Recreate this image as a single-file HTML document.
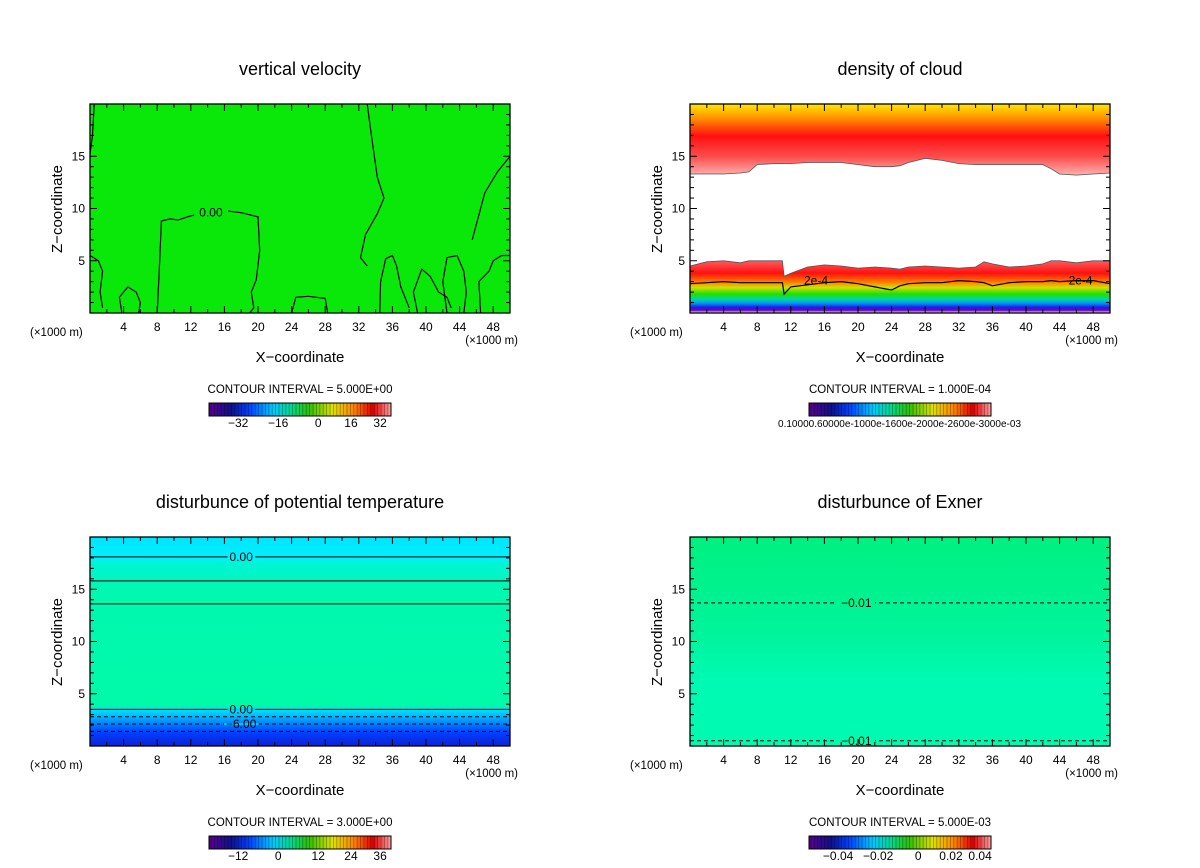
<!DOCTYPE html>
<html><head><meta charset="utf-8">
<style>
html,body{margin:0;padding:0;background:#fff;}
svg{display:block;font-family:"Liberation Sans","DejaVu Sans",sans-serif;}
</style></head>
<body>
<svg id="fig" width="1200" height="868" viewBox="0 0 1200 868" xmlns="http://www.w3.org/2000/svg">
<defs>
<linearGradient id="rainbow" x1="0" x2="1" y1="0" y2="0">
<stop offset="0" stop-color="#5a0090"/><stop offset="0.12" stop-color="#10108a"/><stop offset="0.22" stop-color="#0040ff"/>
<stop offset="0.35" stop-color="#00c8ff"/><stop offset="0.45" stop-color="#00d890"/><stop offset="0.55" stop-color="#30c000"/>
<stop offset="0.68" stop-color="#e0e000"/><stop offset="0.8" stop-color="#ff8000"/><stop offset="0.9" stop-color="#e00000"/><stop offset="1" stop-color="#ffa0a0"/>
</linearGradient>
<linearGradient id="gUpper" x1="0" x2="0" y1="0" y2="1">
<stop offset="0" stop-color="#ffe800"/><stop offset="0.2" stop-color="#ff9000"/><stop offset="0.45" stop-color="#ff1010"/><stop offset="0.75" stop-color="#ff5050"/><stop offset="1" stop-color="#ffb0b0"/>
</linearGradient>
<linearGradient id="gLower" gradientUnits="userSpaceOnUse" x1="0" x2="0" y1="260" y2="313">
<stop offset="0" stop-color="#ff6060"/><stop offset="0.25" stop-color="#ff1010"/><stop offset="0.42" stop-color="#ff8000"/><stop offset="0.52" stop-color="#d0e000"/>
<stop offset="0.64" stop-color="#20e000"/><stop offset="0.74" stop-color="#00d8a0"/><stop offset="0.82" stop-color="#0090ff"/><stop offset="0.89" stop-color="#2020e0"/><stop offset="0.95" stop-color="#7000c0"/><stop offset="1" stop-color="#ffffff"/>
</linearGradient>
<linearGradient id="gTheta" gradientUnits="userSpaceOnUse" x1="0" x2="0" y1="537" y2="747">
<stop offset="0" stop-color="#00e4ff"/><stop offset="0.1" stop-color="#00f0ff"/><stop offset="0.12" stop-color="#00f4d8"/><stop offset="0.25" stop-color="#00f8b0"/>
<stop offset="0.8" stop-color="#00faa8"/><stop offset="0.83" stop-color="#00d8ff"/><stop offset="0.88" stop-color="#0090ff"/><stop offset="0.93" stop-color="#0040ff"/><stop offset="1" stop-color="#1020d0"/>
</linearGradient>
<linearGradient id="gExner" gradientUnits="userSpaceOnUse" x1="0" x2="0" y1="537" y2="747">
<stop offset="0" stop-color="#00f080"/><stop offset="0.45" stop-color="#00f49a"/><stop offset="0.7" stop-color="#00fab4"/><stop offset="1" stop-color="#00fab0"/>
</linearGradient>
</defs>
</svg>
<script>
// ---------- data ----------
const xTicks = [4,8,12,16,20,24,28,32,36,40,44,48];
const zTicks = [5,10,15];
const titles = ["vertical velocity","density of cloud","disturbunce of potential temperature","disturbunce of Exner"];
const intervals = ["CONTOUR INTERVAL = 5.000E+00","CONTOUR INTERVAL = 1.000E-04","CONTOUR INTERVAL = 3.000E+00","CONTOUR INTERVAL = 5.000E-03"];
const cbLabels0 = ["−32","−16","0","16","32"];
const cbLabels2 = ["−12","0","12","24","36"];
const cbLabels3 = ["−0.04","−0.02","0","0.02","0.04"];
// vertical velocity zero contours (x km, z km)
const wLine1 = [[0.5,20],[0.3,17],[0,15.2]];
const wLine2 = [[8,0],[8.3,5],[8.5,8.8],[9.5,9.0],[10.5,8.9],[12,9.3],[14,9.6],[16,9.8],[18,9.6],[20,9.2],[20.2,6],[19.8,3.2],[19.2,2],[19.5,0.5],[19,0]];
const wLine3 = [[33,20],[33.5,17],[34.2,13],[35,11],[34.2,9.5],[32.8,7.5],[32.2,5.3],[33,4.5]];
const wLine4 = [[50,15],[48.5,13.5],[47,11.5],[46,8.5],[45.5,7]];
const wLine5 = [[0,5.5],[1,5],[1.5,4],[1.2,2],[1.5,0.5]];
const wLine6 = [[34.5,0],[34.6,3],[35.2,5.2],[36,5.5],[36.5,4.5],[37,2.5],[37.5,1.5],[38,0.5]];
const wLine7 = [[39,0],[38.5,2],[39.5,4.2],[40.5,3.5],[41.5,2],[42.5,1.5],[43,0.5]];
const wLine8 = [[42.5,0],[42,3],[42.5,5.3],[43.7,5.5],[44.5,4],[44.8,2],[44.5,0]];
const wLine9 = [[46.5,0],[46.3,3],[47.5,4],[48,5],[49,5.5],[50,5.5]];
const wLine10 = [[24,0],[24.5,1.5],[26,1.6],[28,1.4],[28.3,0]];
const wLine11 = [[3.8,0],[3.5,1.5],[4.5,2.5],[5.5,2],[6,1],[5.8,0]];
// cloud density boundaries
const cX = [0,2,4,6,7,8,10,11,11.2,12,14,16,18,20,22,24,25,26,28,30,32,34,35,36,38,40,42,43,44,46,48,50];
const cUpperBase = [13.3,13.3,13.3,13.4,13.5,14.2,14.3,14.3,14.3,14.3,14.4,14.4,14.4,14.2,14.0,14.0,14.1,14.4,14.8,14.6,14.3,14.2,14.2,14.2,14.2,14.2,14.2,13.8,13.3,13.2,13.3,13.4];
const cLowerTop = [4.5,4.9,5.0,4.8,5.0,5.0,5.0,5.0,3.5,3.8,4.4,4.6,4.5,4.3,4.4,4.3,4.2,4.4,4.5,4.4,4.3,4.4,4.9,4.7,4.4,4.5,4.7,5.0,5.0,4.8,5.0,5.0];
const c2e4 = [2.8,2.9,3.0,2.9,2.9,2.9,2.9,2.9,1.8,2.5,2.7,2.9,3.0,2.8,2.5,2.2,2.6,2.8,2.9,2.9,3.1,3.0,2.9,2.6,2.9,3.0,3.0,3.1,3.0,3.1,3.1,2.8];
// potential temperature contour levels (z km) & styles
const thLevels = [18.1,15.8,13.6,3.5,2.8,2.1,1.4];
const thDashed = [false,false,false,false,true,true,true];
const thLabels = ["0.00","","","0.00","","−6.00",""];
// exner contours
const exLevels = [13.7,0.5];
const exLabels = ["−0.01","−0.01"];

// ---------- drawing ----------
const NS="http://www.w3.org/2000/svg";
const svg=document.getElementById('fig');
function mk(tag,attrs,parent){const e=document.createElementNS(NS,tag);for(const k in attrs)e.setAttribute(k,attrs[k]);(parent||svg).appendChild(e);return e;}
const panels=[{x0:90,y0:104},{x0:690,y0:104},{x0:90,y0:537},{x0:690,y0:537}];
const W=420,H=209;
function sx(p,v){return p.x0+v/50*W;}
function sy(p,v){return p.y0+H-v/20*H;}
function pts(p,arr){return arr.map(q=>sx(p,q[0]).toFixed(1)+','+sy(p,q[1]).toFixed(1)).join(' ');}

panels.forEach((p,i)=>{
  const g=mk('g',{});
  
  
  const t=mk('text',{x:p.x0+210,y:p.y0-29,'text-anchor':'middle','font-size':'18'},g);
  t.textContent=titles[i];
  
  
  const bg=mk('g',{},g);
  
  
  if(i===0){
    mk('rect',{x:p.x0,y:p.y0,width:W,height:H,fill:'#0ae80a'},bg);
    [wLine1,wLine2,wLine3,wLine4,wLine5,wLine6,wLine7,wLine8,wLine9,wLine10,wLine11].forEach(l=>{
      const e=mk('polyline',{points:pts(p,l),fill:'none',stroke:'#000','stroke-width':1.2},bg);
      
      
    });
    mk('rect',{x:sx(p,12.4),y:sy(p,9.6)-5,width:34,height:9,fill:'#0ae80a'},bg);
    const lb=mk('text',{x:sx(p,14.4),y:sy(p,9.6)+4,'font-size':'12','text-anchor':'middle'},bg);lb.textContent='0.00';
  } else if(i===1){
    const top=cX.map((x,k)=>[x,cUpperBase[k]]);
    const up=[[0,20]].concat(top).concat([[50,20]]);
    mk('polygon',{points:pts(p,up),fill:'url(#gUpper)',stroke:'#555','stroke-width':0.8},bg);
    const low=cX.map((x,k)=>[x,cLowerTop[k]]).concat([[50,0],[0,0]]);
    mk('polygon',{points:pts(p,low),fill:'url(#gLower)',stroke:'#555','stroke-width':0.8},bg);
    const c=mk('polyline',{points:pts(p,cX.map((x,k)=>[x,c2e4[k]])),fill:'none',stroke:'#000','stroke-width':1.2},bg);
    
    
    [[15,'2e-4'],[46.5,'2e-4']].forEach(a=>{const tt=mk('text',{x:sx(p,a[0]),y:sy(p,3.1)+4,'font-size':'12','text-anchor':'middle'},bg);tt.textContent=a[1];});
  } else if(i===2){
    mk('rect',{x:p.x0,y:p.y0,width:W,height:H,fill:'url(#gTheta)'},bg);
    thLevels.forEach((z,k)=>{
      const l=mk('line',{x1:p.x0,x2:p.x0+W,y1:sy(p,z),y2:sy(p,z),stroke:'#000','stroke-width':1,'stroke-dasharray':thDashed[k]?'4,3':'none'},bg);
      
      
      if(thLabels[k]){const tt=mk('text',{x:sx(p,18),y:sy(p,z)+4,'font-size':'12','text-anchor':'middle',stroke:'none'},bg);tt.textContent=thLabels[k];
        const bb=tt.getBBox();const r=mk('rect',{x:bb.x-2,y:sy(p,z)-1,width:bb.width+4,height:2,fill:k<3?'#00f0ff':'#00c8ff'},bg);bg.insertBefore(r,tt);}
    });
  } else {
    mk('rect',{x:p.x0,y:p.y0,width:W,height:H,fill:'url(#gExner)'},bg);
    exLevels.forEach((z,k)=>{
      const l=mk('line',{x1:p.x0,x2:p.x0+W,y1:sy(p,z),y2:sy(p,z),stroke:'#000','stroke-width':1,'stroke-dasharray':'4,3'},bg);
      
      
      mk('rect',{x:sx(p,17.5),y:sy(p,z)-2,width:38,height:4,fill:k?'#00fab0':'#00f48e'},bg);
      const tt=mk('text',{x:sx(p,19.8),y:sy(p,z)+4,'font-size':'12','text-anchor':'middle'},bg);tt.textContent=exLabels[k];
    });
  }
  // frame
  const fr=mk('rect',{x:p.x0,y:p.y0,width:W,height:H,fill:'none',stroke:'#000','stroke-width':1.3},g);
  
  
  for(let v=2;v<50;v+=2){const major=v%4===0;const L=major?7:4;
    mk('line',{x1:sx(p,v),x2:sx(p,v),y1:p.y0+H,y2:p.y0+H-L,stroke:'#000'},g);
    mk('line',{x1:sx(p,v),x2:sx(p,v),y1:p.y0,y2:p.y0+L,stroke:'#000'},g);}
  xTicks.forEach(v=>{const tt=mk('text',{x:sx(p,v),y:p.y0+H+18,'font-size':'12','text-anchor':'middle'},g);tt.textContent=v;
    });
  for(let v=1;v<20;v++){const major=v%5===0;const L=major?7:4;
    mk('line',{x1:p.x0,x2:p.x0+L,y1:sy(p,v),y2:sy(p,v),stroke:'#000'},g);
    mk('line',{x1:p.x0+W,x2:p.x0+W-L,y1:sy(p,v),y2:sy(p,v),stroke:'#000'},g);}
  zTicks.forEach(v=>{const tt=mk('text',{x:p.x0-5,y:sy(p,v)+4,'font-size':'12','text-anchor':'end'},g);tt.textContent=v;
    });
  let u=mk('text',{x:p.x0-60,y:p.y0+H+23,'font-size':'11.5'},g);u.textContent='(×1000 m)';
  u=mk('text',{x:p.x0+W+8,y:p.y0+H+31,'font-size':'11.5','text-anchor':'end'},g);u.textContent='(×1000 m)';
  const xl=mk('text',{x:p.x0+210,y:p.y0+H+49,'font-size':'15','text-anchor':'middle'},g);xl.textContent='X−coordinate';
  
  const zl=mk('text',{x:0,y:0,'font-size':'15','text-anchor':'middle',transform:`translate(${p.x0-28},${p.y0+105}) rotate(-90)`},g);zl.textContent='Z−coordinate';
  
  const ci=mk('text',{x:p.x0+210,y:p.y0+H+80,'font-size':'11.5','text-anchor':'middle'},g);ci.textContent=intervals[i];
  
  const cbx=p.x0+119,cby=p.y0+299,cbw=182,cbh=13;
  const cb=mk('g',{},g);
  
  
  mk('rect',{x:cbx,y:cby,width:cbw,height:cbh,fill:'url(#rainbow)'},cb);
  for(let k=2;k<cbw;k+=3.4){mk('line',{x1:cbx+k,x2:cbx+k,y1:cby,y2:cby+cbh,stroke:'rgba(0,0,0,0.35)','stroke-width':0.8},cb);}
  mk('rect',{x:cbx,y:cby,width:cbw,height:cbh,fill:'none',stroke:'#000'},cb);
  if(i===1){const tt=mk('text',{x:cbx-31,y:cby+24,'font-size':'10','textLength':243},cb);tt.textContent='0.10000.60000e-1000e-1600e-2000e-2600e-3000e-03';}
  else{const labs=i===0?cbLabels0:(i===2?cbLabels2:cbLabels3);
    const fr=[0.16,0.38,0.6,0.78,0.94];
    labs.forEach((s,k)=>{const tt=mk('text',{x:cbx+cbw*fr[k],y:cby+24,'font-size':'12','text-anchor':'middle'},cb);tt.textContent=s;});}
});
</script>
</body></html>
